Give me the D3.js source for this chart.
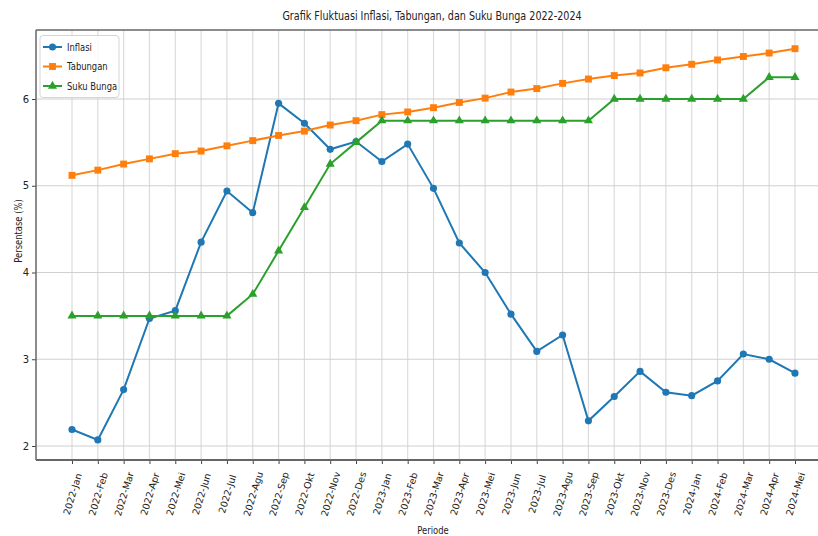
<!DOCTYPE html>
<html>
<head>
<meta charset="utf-8">
<script src="https://cdn.jsdelivr.net/npm/d3@7"></script>
<style>
  body { margin: 0; background: #fff; }
  text { font-family: "DejaVu Sans", sans-serif; fill: #222; }
</style>
</head>
<body>
<svg id="svg"></svg>
<script>
const periods = ["2022-Jan","2022-Feb","2022-Mar","2022-Apr","2022-Mei","2022-Jun","2022-Jul","2022-Agu","2022-Sep","2022-Okt","2022-Nov","2022-Des",
  "2023-Jan","2023-Feb","2023-Mar","2023-Apr","2023-Mei","2023-Jun","2023-Jul","2023-Agu","2023-Sep","2023-Okt","2023-Nov","2023-Des",
  "2024-Jan","2024-Feb","2024-Mar","2024-Apr","2024-Mei"];
const inflasi = [2.19, 2.07, 2.65, 3.47, 3.56, 4.35, 4.94, 4.69, 5.95, 5.72, 5.42, 5.51,
  5.28, 5.48, 4.97, 4.34, 4.00, 3.52, 3.09, 3.28, 2.29, 2.57, 2.86, 2.62,
  2.58, 2.75, 3.06, 3.00, 2.84];
const tabungan = [5.12, 5.18, 5.25, 5.31, 5.37, 5.40, 5.46, 5.52, 5.58, 5.63, 5.70, 5.75,
  5.82, 5.85, 5.90, 5.96, 6.01, 6.08, 6.12, 6.18, 6.23, 6.27, 6.30, 6.36,
  6.40, 6.45, 6.49, 6.53, 6.58];
const sukuBunga = [3.5, 3.5, 3.5, 3.5, 3.5, 3.5, 3.5, 3.75, 4.25, 4.75, 5.25, 5.5,
  5.75, 5.75, 5.75, 5.75, 5.75, 5.75, 5.75, 5.75, 5.75, 6.0, 6.0, 6.0,
  6.0, 6.0, 6.0, 6.25, 6.25];
const yTicks = [2, 3, 4, 5, 6];
const seriesNames = ["Inflasi", "Tabungan", "Suku Bunga"];

const width = 818;
const height = 536;
const plotLeft = 36, plotRight = 830, plotTop = 30, plotBottom = 460;
let svg = d3.select("#svg").attr("width", width).attr("height", height);

const xScale = d3.scalePoint().domain(periods).range([72, 795]);
const yScale = d3.scaleLinear().domain([2, 6]).range([446, 99]);

const series = [
  { name: seriesNames[0], values: inflasi, color: "#1f77b4", marker: "circle" },
  { name: seriesNames[1], values: tabungan, color: "#ff7f0e", marker: "square" },
  { name: seriesNames[2], values: sukuBunga, color: "#2ca02c", marker: "triangle" }
];

// grid
let grid = svg.append("g");
grid.selectAll(".vg").data(periods).join("line")
  .attr("x1", d => xScale(d)).attr("x2", d => xScale(d))
  .attr("y1", plotTop).attr("y2", plotBottom)
  .attr("stroke", "#dcdcdc").attr("stroke-width", 1.2);
grid.selectAll(".hg").data(yTicks).join("line")
  .attr("x1", plotLeft).attr("x2", plotRight)
  .attr("y1", d => yScale(d)).attr("y2", d => yScale(d))
  .attr("stroke", "#d0d0d0").attr("stroke-width", 1.2);

// axes
let xAxis = svg.append("g").attr("transform", `translate(0,${plotBottom})`)
  .call(d3.axisBottom(xScale).tickSize(4).tickFormat(""));
xAxis.select(".domain").remove();
xAxis.selectAll("line").attr("stroke", "#444");
xAxis.selectAll(".tick").append("text")
  .attr("class", "xlab")
  .attr("transform", "translate(0,34) rotate(-73)")
  .attr("text-anchor", "middle")
  .attr("dy", "0.35em")
  .attr("font-size", "9.5px")
  .attr("fill", "#222")
  .text(d => d);

let yAxis = svg.append("g").attr("transform", `translate(${plotLeft},0)`)
  .call(d3.axisLeft(yScale).tickValues(yTicks).tickSize(4).tickFormat(d3.format("d")));
yAxis.select(".domain").remove();
yAxis.selectAll("line").attr("stroke", "#444");
yAxis.selectAll("text").attr("font-size", "10px").attr("fill", "#222").attr("font-family", "DejaVu Sans");

// frame
svg.append("line").attr("x1", plotLeft).attr("x2", plotRight).attr("y1", plotTop).attr("y2", plotTop).attr("stroke", "#666").attr("stroke-width", 1.5);
svg.append("line").attr("x1", plotLeft).attr("x2", plotRight).attr("y1", plotBottom).attr("y2", plotBottom).attr("stroke", "#666").attr("stroke-width", 1.8);
svg.append("line").attr("x1", plotLeft).attr("x2", plotLeft).attr("y1", plotTop).attr("y2", plotBottom).attr("stroke", "#666").attr("stroke-width", 1.5);

// lines + markers
const line = d3.line().x((d, i) => xScale(periods[i])).y(d => yScale(d));
const symbolOf = { circle: d3.symbolCircle, square: d3.symbolSquare, triangle: d3.symbolTriangle };
const sizeOf = { circle: 40, square: 48, triangle: 36 };

series.forEach(s => {
  let g = svg.append("g");
  g.append("path").datum(s.values)
    .attr("d", line)
    .attr("fill", "none")
    .attr("stroke", s.color)
    .attr("stroke-width", 2);
  g.selectAll("path.m").data(s.values).join("path")
    .attr("class", "m")
    .attr("transform", (d, i) => `translate(${xScale(periods[i])},${yScale(d)})`)
    .attr("d", d3.symbol().type(symbolOf[s.marker]).size(sizeOf[s.marker]))
    .attr("fill", s.color);
});

// legend
let legend = svg.append("g");
legend.append("rect").attr("x", 40).attr("y", 35.5).attr("width", 79).attr("height", 62)
  .attr("rx", 3).attr("fill", "white").attr("fill-opacity", 0.85)
  .attr("stroke", "#d5d5d5");
series.forEach((s, i) => {
  const yy = 47 + i * 19.5;
  legend.append("line").attr("x1", 43).attr("x2", 62).attr("y1", yy).attr("y2", yy)
    .attr("stroke", s.color).attr("stroke-width", 2);
  legend.append("path").attr("transform", `translate(52.5,${yy})`)
    .attr("d", d3.symbol().type(symbolOf[s.marker]).size(sizeOf[s.marker]))
    .attr("fill", s.color);
  legend.append("text").attr("class", "cond").attr("x", 67).attr("y", yy).attr("dy", "0.35em")
    .attr("font-size", "10.5px").text(s.name);
});

// titles
svg.append("text").attr("class", "cond").attr("x", 432).attr("y", 16).attr("dy", "0.35em")
  .attr("text-anchor", "middle").attr("font-size", "12px")
  .text("Grafik Fluktuasi Inflasi, Tabungan, dan Suku Bunga 2022-2024");
svg.append("text").attr("class", "cond").attr("x", 433).attr("y", 530).attr("dy", "0.35em")
  .attr("text-anchor", "middle").attr("font-size", "10.5px").text("Periode");
svg.append("text").attr("class", "cond").attr("transform", "translate(18,231) rotate(-90)")
  .attr("dy", "0.35em").attr("text-anchor", "middle").attr("font-size", "10.5px")
  .text("Persentase (%)");

// squeeze text a little, the picture is narrower than normal type
svg.selectAll("text.cond").each(function () {
  const len = this.getComputedTextLength();
  d3.select(this).attr("textLength", len * 0.8).attr("lengthAdjust", "spacingAndGlyphs");
});
</script>
</body>
</html>
